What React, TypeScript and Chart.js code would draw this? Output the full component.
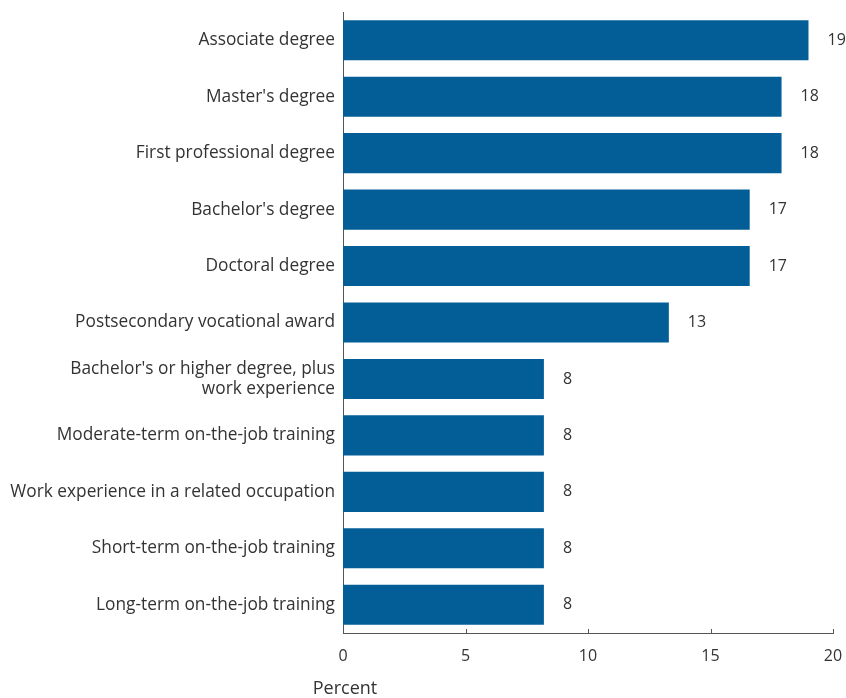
import React, { useEffect, useRef } from "react";
import { Chart, registerables } from "chart.js";

Chart.register(...registerables);

const categories: (string | string[])[] = [
  "Associate degree",
  "Master's degree",
  "First professional degree",
  "Bachelor's degree",
  "Doctoral degree",
  "Postsecondary vocational award",
  ["Bachelor's or higher degree, plus", "work experience"],
  "Moderate-term on-the-job training",
  "Work experience in a related occupation",
  "Short-term on-the-job training",
  "Long-term on-the-job training",
];

const values = [19.0, 17.9, 17.9, 16.6, 16.6, 13.3, 8.2, 8.2, 8.2, 8.2, 8.2];
const valueLabels = ["19", "18", "18", "17", "17", "13", "8", "8", "8", "8", "8"];
const xTicks = [0, 5, 10, 15, 20];
const axisTitle = "Percent";

const FONT = "'Open Sans', 'Noto Sans', sans-serif";
const TEXT = "#333333";
const BAR = "#035e98";

const overlay = {
  id: "overlay",
  afterDraw(chart: any) {
    const ctx = chart.ctx;
    const xs = chart.scales.x;
    const area = chart.chartArea;
    ctx.save();
    ctx.strokeStyle = "#555555";
    ctx.lineWidth = 1;
    xTicks.forEach((t) => {
      const px = Math.round(xs.getPixelForValue(t)) + 0.5;
      ctx.beginPath();
      ctx.moveTo(px, area.bottom - 4);
      ctx.lineTo(px, area.bottom);
      ctx.stroke();
    });
    ctx.fillStyle = TEXT;
    ctx.font = `16px ${FONT}`;
    ctx.textAlign = "left";
    ctx.textBaseline = "middle";
    const meta = chart.getDatasetMeta(0);
    meta.data.forEach((bar: any, i: number) => {
      ctx.fillText(valueLabels[i], bar.x + 19, bar.y);
    });
    ctx.textAlign = "center";
    ctx.font = `18px ${FONT}`;
    ctx.fillText(axisTitle, xs.getPixelForValue(0) + 2, 689);
    ctx.restore();
  },
};

export default function App() {
  const ref = useRef<HTMLCanvasElement>(null);
  useEffect(() => {
    document.body.style.margin = "0";
    const chart = new Chart(ref.current!, {
      type: "bar",
      data: {
        labels: categories,
        datasets: [
          {
            data: values,
            backgroundColor: BAR,
            borderWidth: 0,
            categoryPercentage: 1,
            barPercentage: 0.71,
          },
        ],
      },
      plugins: [overlay],
      options: {
        indexAxis: "y",
        animation: false,
        responsive: false,
        layout: { padding: { top: 12, right: 13, bottom: 0, left: 0 } },
        plugins: { legend: { display: false }, tooltip: { enabled: false } },
        scales: {
          x: {
            min: 0,
            max: 20,
            afterBuildTicks: (s: any) => {
              s.ticks = xTicks.map((v) => ({ value: v }));
            },
            afterFit: (s: any) => {
              s.height = 65;
              s.paddingRight = 0;
              s.paddingLeft = 0;
            },
            grid: { display: false },
            border: { display: true, color: "#555555", width: 1 },
            ticks: {
              color: TEXT,
              font: { size: 16, family: FONT },
              padding: 6,
              maxRotation: 0,
            },
          },
          y: {
            afterFit: (s: any) => {
              s.width = 343;
              s.paddingTop = 0;
              s.paddingBottom = 0;
            },
            grid: { display: false },
            border: { display: true, color: "#555555", width: 1 },
            ticks: {
              color: TEXT,
              font: { size: 17.3, family: FONT, lineHeight: 1.15 },
              padding: 0,
              autoSkip: false,
            },
          },
        },
      },
    });
    return () => chart.destroy();
  }, []);
  return <canvas ref={ref} width={846} height={698} style={{ display: "block" }} />;
}
